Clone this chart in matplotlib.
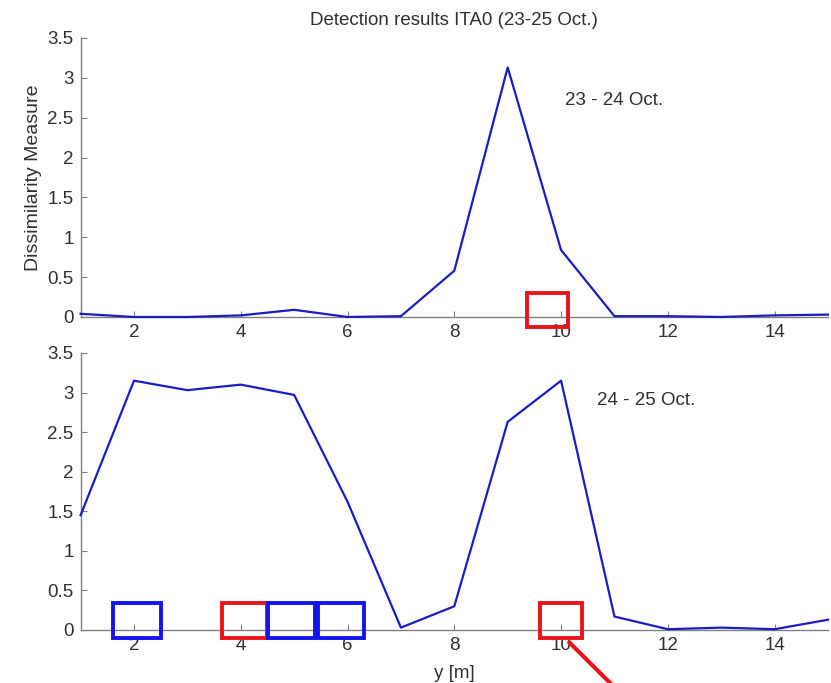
import numpy as np
import matplotlib.pyplot as plt
from matplotlib.patches import Rectangle

plt.rcParams['font.family'] = ['Liberation Sans', 'DejaVu Sans']

# Data
y_pos = np.arange(1, 16)
dm_23_24 = [0.04, 0.0, 0.0, 0.02, 0.09, 0.0, 0.01, 0.58, 3.13, 0.84, 0.01, 0.01, 0.0, 0.02, 0.03]
dm_24_25 = [1.45, 3.15, 3.03, 3.10, 2.97, 1.62, 0.03, 0.30, 2.63, 3.15, 0.17, 0.01, 0.03, 0.01, 0.13]

# detection boxes: (x_left, width, colour)
boxes_top = [(9.37, 0.76, 'red')]
boxes_bottom = [(1.61, 0.90, 'blue'), (3.65, 0.85, 'red'), (4.51, 0.88, 'blue'),
                (5.45, 0.86, 'blue'), (9.60, 0.80, 'red')]

line_col = '#1c1cc0'
box_cols = {'red': '#e8141a', 'blue': '#1414f0'}
txt_col = '#303030'

fig = plt.figure(figsize=(8.31, 6.83), dpi=100)
ax1 = fig.add_axes([0.097, 0.5359, 0.8994, 0.4085])
ax2 = fig.add_axes([0.097, 0.0776, 0.8994, 0.4056])


def style(ax):
    ax.set_xlim(1, 15)
    ax.set_ylim(0, 3.5)
    ax.set_xticks([2, 4, 6, 8, 10, 12, 14])
    ax.set_yticks([0, 0.5, 1, 1.5, 2, 2.5, 3, 3.5])
    ax.set_yticklabels(['0', '0.5', '1', '1.5', '2', '2.5', '3', '3.5'])
    for s in ['top', 'right']:
        ax.spines[s].set_visible(False)
    for s in ['left', 'bottom']:
        ax.spines[s].set_color('#808080')
        ax.spines[s].set_linewidth(1.0)
    ax.tick_params(direction='in', length=4, color='#808080', labelsize=13.5,
                   labelcolor=txt_col, pad=5)


for ax, vals, boxes, lbl, lx, ly in [
        (ax1, dm_23_24, boxes_top, '23 - 24 Oct.', 10.07, 2.72),
        (ax2, dm_24_25, boxes_bottom, '24 - 25 Oct.', 10.67, 2.9)]:
    style(ax)
    ax.plot(y_pos, vals, color=line_col, lw=1.6, clip_on=False, zorder=3)
    for x0, w, c in boxes:
        yb, h = (-0.12, 0.42) if ax is ax1 else (-0.10, 0.44)
        ax.add_patch(Rectangle((x0, yb), w, h, fill=False, ec=box_cols[c],
                               lw=2.8, clip_on=False, zorder=4))
    ax.text(lx, ly, lbl, fontsize=13.5, color=txt_col, va='center')

ax1.set_title('Detection results ITA0 (23-25 Oct.)', fontsize=13.5, color=txt_col, pad=9)
ax1.set_ylabel('Dissimilarity Measure', fontsize=14, color=txt_col, labelpad=4)
ax2.set_xlabel('y [m]', fontsize=13.5, color=txt_col, labelpad=8)

# red pointer line below the right detection
ax2.plot([10.16, 10.95], [-0.16, -0.69], color='#e8141a', lw=3, clip_on=False, zorder=5)

fig.savefig('out.png', dpi=100)
